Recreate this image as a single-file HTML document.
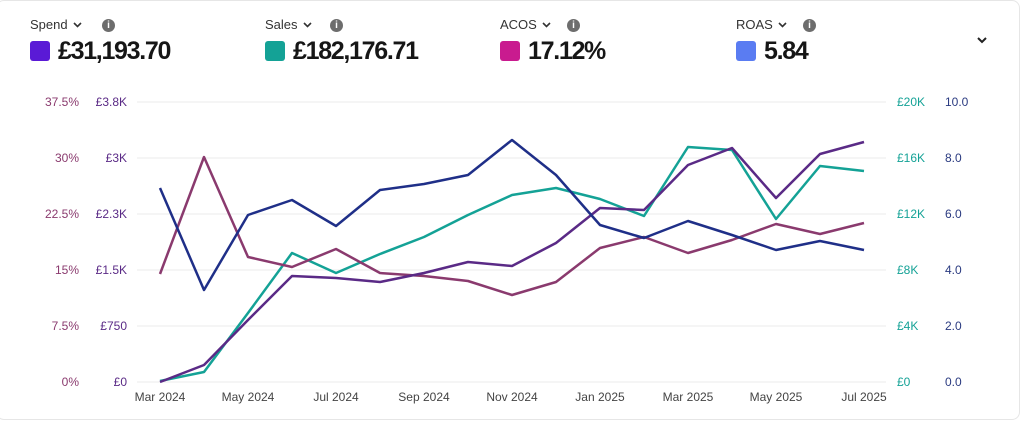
<!DOCTYPE html>
<html><head><meta charset="utf-8"><style>
body{margin:0;width:1024px;height:435px;background:#fff;font-family:"Liberation Sans",sans-serif;overflow:hidden;position:relative}
.card{position:absolute;left:-4px;top:0;width:1022px;height:418px;border:1px solid #e6e6e6;border-radius:8px}
.m{position:absolute;top:16px}
.lab{font-size:13px;color:#333}
.chev{display:inline-block;margin-left:5px;vertical-align:1px}
.info{position:absolute;top:3px;width:13px;height:13px;border-radius:50%;background:#6d6d6d;color:#fff;font-size:10px;font-weight:bold;text-align:center;line-height:13px}
.val{position:absolute;top:21px;left:0;white-space:nowrap;font-size:25px;font-weight:bold;color:#161616;letter-spacing:-1.3px}
.sw{display:inline-block;width:20px;height:20px;border-radius:3px;vertical-align:-2px;margin-right:8px}
</style></head><body>
<div class="card"></div>
<div class="m" style="left:30px"><span class="lab">Spend<svg class="chev" width="9" height="6"><polyline points="1,1 4.5,4.5 8,1" fill="none" stroke="#333" stroke-width="1.6"/></svg></span><span class="info" style="left:72px">i</span><div class="val"><span class="sw" style="background:#5a1ad6"></span>£31,193.70</div></div>
<div class="m" style="left:265px"><span class="lab">Sales<svg class="chev" width="9" height="6"><polyline points="1,1 4.5,4.5 8,1" fill="none" stroke="#333" stroke-width="1.6"/></svg></span><span class="info" style="left:65px">i</span><div class="val"><span class="sw" style="background:#14a296"></span>£182,176.71</div></div>
<div class="m" style="left:500px"><span class="lab">ACOS<svg class="chev" width="9" height="6"><polyline points="1,1 4.5,4.5 8,1" fill="none" stroke="#333" stroke-width="1.6"/></svg></span><span class="info" style="left:67px">i</span><div class="val"><span class="sw" style="background:#c91b8f"></span>17.12%</div></div>
<div class="m" style="left:736px"><span class="lab">ROAS<svg class="chev" width="9" height="6"><polyline points="1,1 4.5,4.5 8,1" fill="none" stroke="#333" stroke-width="1.6"/></svg></span><span class="info" style="left:67px">i</span><div class="val"><span class="sw" style="background:#5a7cf2"></span>5.84</div></div>
<svg style="position:absolute;left:976px;top:36px" width="12" height="9"><polyline points="2,2 6,6 10,2" fill="none" stroke="#222" stroke-width="2"/></svg>
<svg style="position:absolute;left:0;top:0" width="1024" height="435" font-family="Liberation Sans, sans-serif" font-size="12">
<g stroke="#ebebeb" stroke-width="1">
<line x1="137" x2="886" y1="102" y2="102"/><line x1="137" x2="886" y1="158" y2="158"/><line x1="137" x2="886" y1="214" y2="214"/><line x1="137" x2="886" y1="270" y2="270"/><line x1="137" x2="886" y1="326" y2="326"/><line x1="137" x2="886" y1="382" y2="382"/>
</g>
<g fill="#8a3a6e" text-anchor="end">
<text x="79" y="106">37.5%</text><text x="79" y="162">30%</text><text x="79" y="218">22.5%</text><text x="79" y="274">15%</text><text x="79" y="330">7.5%</text><text x="79" y="386">0%</text></g>
<g fill="#5a2a86" text-anchor="end">
<text x="127" y="106">£3.8K</text><text x="127" y="162">£3K</text><text x="127" y="218">£2.3K</text><text x="127" y="274">£1.5K</text><text x="127" y="330">£750</text><text x="127" y="386">£0</text></g>
<g fill="#14a296">
<text x="897" y="106">£20K</text><text x="897" y="162">£16K</text><text x="897" y="218">£12K</text><text x="897" y="274">£8K</text><text x="897" y="330">£4K</text><text x="897" y="386">£0</text></g>
<g fill="#2a3a80">
<text x="945" y="106">10.0</text><text x="945" y="162">8.0</text><text x="945" y="218">6.0</text><text x="945" y="274">4.0</text><text x="945" y="330">2.0</text><text x="945" y="386">0.0</text></g>
<g fill="#444" text-anchor="middle">
<text x="160" y="401">Mar 2024</text><text x="248" y="401">May 2024</text><text x="336" y="401">Jul 2024</text><text x="424" y="401">Sep 2024</text><text x="512" y="401">Nov 2024</text><text x="600" y="401">Jan 2025</text><text x="688" y="401">Mar 2025</text><text x="776" y="401">May 2025</text><text x="864" y="401">Jul 2025</text></g>
<g fill="none" stroke-width="2.5" stroke-linejoin="round">
<polyline stroke="#14a296" points="160,381 204,372 248,313 292,253 336,273 380,254 424,237 468,215 512,195 556,188 600,199 644,216 688,147 732,150 776,219 820,166 864,171"/>
<polyline stroke="#8a3a6e" points="160,274 204,157 248,257 292,267 336,249 380,273 424,276 468,281 512,295 556,282 600,248 644,237 688,253 732,240 776,224 820,234 864,223"/>
<polyline stroke="#5a2a86" points="160,382 204,365 248,320 292,276 336,278 380,282 424,273 468,262 512,266 556,243 600,208 644,210 688,165 732,148 776,198 820,154 864,142"/>
<polyline stroke="#1f2f88" points="160,188 204,290 248,215 292,200 336,226 380,190 424,184 468,175 512,140 556,175 600,225 644,238 688,221 732,235 776,250 820,241 864,250"/>
</g></svg>
</body></html>
